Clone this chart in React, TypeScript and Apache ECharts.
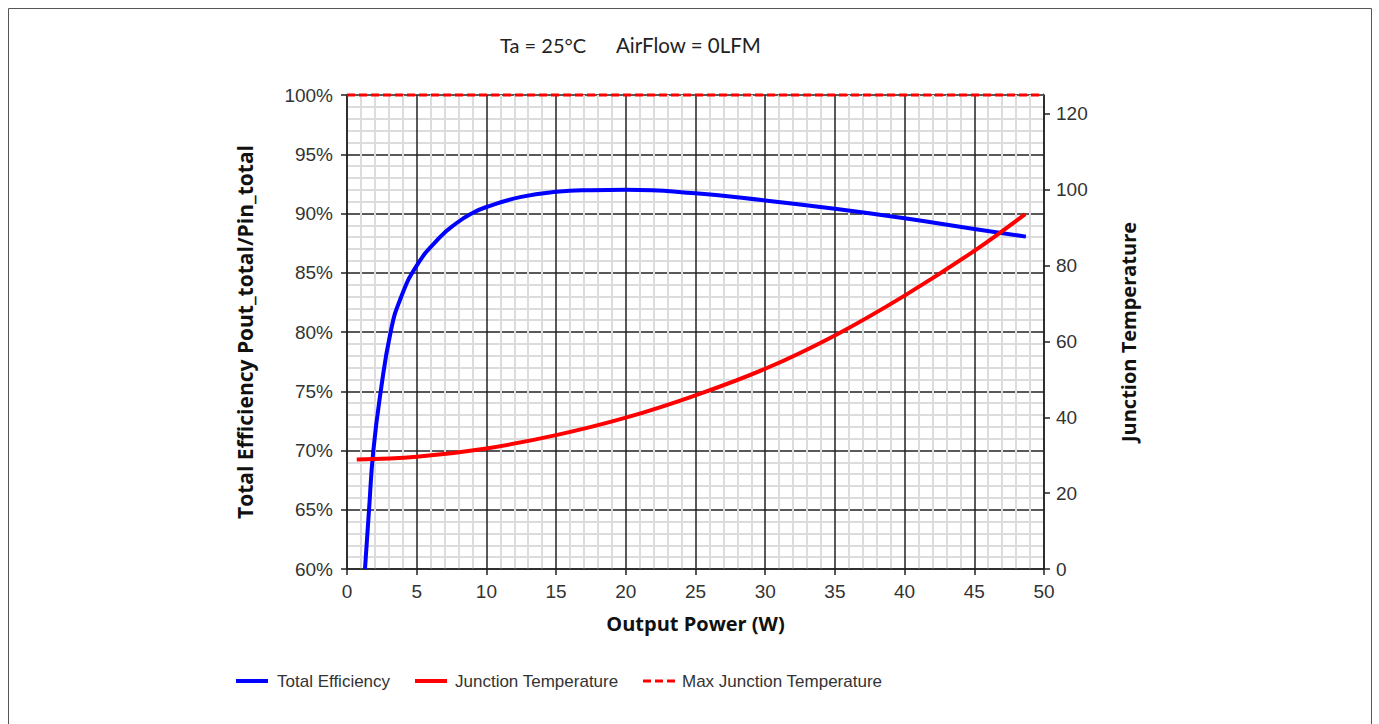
import React, { useEffect, useRef } from "react";
import * as echarts from "echarts";

// Total efficiency curve (W, %)
const efficiencyPower = [1.29, 1.58, 1.89, 2.42, 3.13, 3.8, 5, 6.67, 7.87, 8.94, 10, 12.5, 15, 17.5, 20, 25, 30, 35, 40, 45, 48.7];
const efficiencyValues = [60, 65, 70, 75, 80, 82.7, 85.6, 88.0, 89.2, 90.0, 90.55, 91.4, 91.83, 91.97, 92.0, 91.7, 91.1, 90.4, 89.6, 88.7, 88.05];

// Junction temperature curve (W, °C)
const junctionPower = [0.7, 5, 10, 15, 20, 25, 30, 35, 40, 45, 48.65];
const junctionValues = [28.9, 29.6, 31.8, 35.3, 39.9, 45.8, 52.8, 61.6, 72.1, 83.9, 93.6];

// Max junction temperature line
const maxJunctionPower = [0, 50];
const maxJunctionValues = [125, 125];

const seriesNames = ["Total Efficiency", "Junction Temperature", "Max Junction Temperature"];
const titleParts = ["Ta = 25°C", "AirFlow = 0LFM"];

const pair = (xs: number[], ys: number[]) => xs.map((x, i) => [x, ys[i]]);

export default function App() {
  const ref = useRef<HTMLDivElement>(null);
  useEffect(() => {
    if (!ref.current) return;
    const chart = echarts.init(ref.current, null, { renderer: "svg" });
    const tickFont = { fontFamily: "Liberation Sans", fontSize: 19, color: "#333" };
    const nameFont = { fontFamily: "Open Sans", fontSize: 20, fontWeight: "bold" as const, color: "#111" };
    const legendFont = { fontFamily: "Liberation Sans", fontSize: 17, fill: "#333" };
    const legendItems = [
      { x: 236, tx: 277, color: "#0000ff", dash: null as number[] | null, width: 4 },
      { x: 415, tx: 455, color: "#ff0000", dash: null as number[] | null, width: 4 },
      { x: 643, tx: 682, color: "#ff0000", dash: [8, 4], width: 3 },
    ];
    const legendGraphics: any[] = [];
    legendItems.forEach((it, i) => {
      legendGraphics.push({
        type: "line",
        shape: { x1: it.x, y1: 681, x2: it.x + 32, y2: 681 },
        style: { stroke: it.color, lineWidth: it.width, lineDash: it.dash || undefined },
      });
      legendGraphics.push({
        type: "text",
        x: it.tx,
        y: 681,
        style: { ...legendFont, text: seriesNames[i], verticalAlign: "middle" },
      });
    });
    chart.setOption({
      animation: false,
      backgroundColor: "#fff",
      graphic: [
        { type: "text", x: 500, y: 45, style: { text: titleParts[0], fontFamily: "Lato", fontSize: 20, fill: "#222", verticalAlign: "middle" } },
        { type: "text", x: 616, y: 45, style: { text: titleParts[1], fontFamily: "Lato", fontSize: 20.5, fill: "#222", verticalAlign: "middle" } },
        { type: "polyline", shape: { points: [[8.5, 730], [8.5, 8.5], [1371.5, 8.5], [1371.5, 730]] }, style: { stroke: "#555", lineWidth: 1, fill: "none" } },
        ...legendGraphics,
      ],
      grid: { left: 347, right: 335, top: 95, bottom: 155 },
      xAxis: {
        type: "value",
        min: 0,
        max: 50,
        interval: 5,
        name: "Output Power (W)",
        nameLocation: "middle",
        nameGap: 44,
        nameTextStyle: nameFont,
        axisLine: { show: true, lineStyle: { color: "#222", width: 1.5 } },
        axisTick: { show: true, length: 6, lineStyle: { color: "#222", width: 1.5 } },
        axisLabel: { ...tickFont, margin: 13 },
        splitLine: { show: true, lineStyle: { color: "#222", width: 1.5 } },
        minorTick: { show: false, splitNumber: 5 },
        minorSplitLine: { show: true, lineStyle: { color: "#dcdcdc", width: 2 } },
      },
      yAxis: [
        {
          type: "value",
          min: 60,
          max: 100,
          interval: 5,
          position: "left",
          name: "Total Efficiency Pout_total/Pin_total",
          nameLocation: "middle",
          nameRotate: 90,
          nameGap: 92,
          nameTextStyle: { ...nameFont, fontSize: 21 },
          axisLine: { show: true, lineStyle: { color: "#222", width: 1.5 } },
          axisTick: { show: true, length: 6, lineStyle: { color: "#222", width: 1.5 } },
          axisLabel: { ...tickFont, margin: 14, formatter: "{value}%" },
          splitLine: { show: true, lineStyle: { color: "#222", width: 1.5 } },
          minorTick: { show: false, splitNumber: 5 },
          minorSplitLine: { show: true, lineStyle: { color: "#dcdcdc", width: 2 } },
        },
        {
          type: "value",
          min: 0,
          max: 125,
          interval: 20,
          position: "right",
          name: "Junction Temperature",
          nameLocation: "middle",
          nameRotate: 90,
          nameGap: 74,
          nameTextStyle: nameFont,
          axisLine: { show: true, lineStyle: { color: "#222", width: 1.5 } },
          axisTick: { show: true, length: 6, lineStyle: { color: "#222", width: 1.5 } },
          axisLabel: { ...tickFont, margin: 12, showMaxLabel: false, formatter: (v: number) => (v === 125 ? "" : String(v)) },
          splitLine: { show: false },
        },
      ],
      series: [
        {
          name: seriesNames[0],
          type: "line",
          yAxisIndex: 0,
          data: pair(efficiencyPower, efficiencyValues),
          smooth: 0.5,
          symbol: "none",
          lineStyle: { color: "#0000ff", width: 4 },
          itemStyle: { color: "#0000ff" },
          z: 3,
        },
        {
          name: seriesNames[1],
          type: "line",
          yAxisIndex: 1,
          data: pair(junctionPower, junctionValues),
          smooth: 0.4,
          symbol: "none",
          lineStyle: { color: "#ff0000", width: 4 },
          itemStyle: { color: "#ff0000" },
          z: 4,
        },
        {
          name: seriesNames[2],
          type: "line",
          yAxisIndex: 1,
          data: pair(maxJunctionPower, maxJunctionValues),
          symbol: "none",
          clip: false,
          lineStyle: { color: "#ff0000", width: 3, type: [8, 4] },
          itemStyle: { color: "#ff0000" },
          z: 5,
        },
      ],
    });
    return () => chart.dispose();
  }, []);
  return <div ref={ref} style={{ position: "fixed", left: 0, top: 0, width: 1379, height: 724 }} />;
}
